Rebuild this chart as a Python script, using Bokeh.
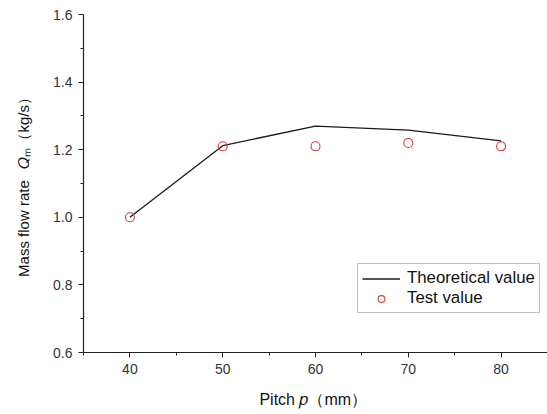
from bokeh.plotting import figure
from bokeh.models import Legend, LegendItem, Range1d, FixedTicker, CustomJSTickFormatter
from bokeh.embed import file_html
from bokeh.resources import INLINE

# data
pitch = [40, 50, 60, 70, 80]
theoretical = [1.0, 1.212, 1.27, 1.258, 1.226]
test = [1.0, 1.21, 1.21, 1.22, 1.21]
x_ticks = [40, 50, 60, 70, 80]
y_ticks = [0.6, 0.8, 1.0, 1.2, 1.4, 1.6]
x_title = "Pitch  \U0001D45D\uFF08mm\uFF09"
y_title = "Mass flow rate\u2002 \U0001D444\u2098\uFF08kg/s\uFF09"

W, H = 547, 414
FL, FT, FR, FB = 83, 14, 547, 352
X0, X1, Y0, Y1 = 35, 85, 0.6, 1.6

p = figure(width=W, height=H, output_backend="svg", toolbar_location=None,
           x_range=Range1d(X0, X1), y_range=Range1d(Y0, Y1),
           min_border_left=FL, min_border_right=W - FR, min_border_top=FT,
           min_border_bottom=H - FB)
p.grid.visible = False
p.outline_line_color = None
p.background_fill_color = "white"
p.border_fill_color = "white"

for ax in (p.xaxis[0], p.yaxis[0]):
    ax.axis_line_color = "#222222"
    ax.axis_line_width = 1.2
    ax.major_tick_line_color = "#222222"
    ax.minor_tick_line_color = "#222222"
    ax.major_tick_out = 5
    ax.major_tick_in = 0
    ax.minor_tick_out = 3
    ax.minor_tick_in = 0
    ax.major_label_text_font = "Liberation Sans"
    ax.major_label_text_font_size = "14px"
    ax.major_label_text_color = "#333333"
    ax.major_label_standoff = 6
    ax.axis_label_text_font = "Liberation Sans"
    ax.axis_label_text_font_style = "normal"
    ax.axis_label_text_color = "#111111"

p.xaxis.axis_label = x_title
p.xaxis.axis_label_text_font_size = "16px"
p.xaxis.axis_label_standoff = 14
p.yaxis.axis_label = y_title
p.yaxis.axis_label_text_font_size = "15px"
p.yaxis.axis_label_standoff = 18

p.xaxis.ticker = FixedTicker(ticks=x_ticks, minor_ticks=[35, 45, 55, 65, 75, 85])
p.yaxis.ticker = FixedTicker(ticks=y_ticks, minor_ticks=[0.7, 0.9, 1.1, 1.3, 1.5])
p.yaxis.formatter = CustomJSTickFormatter(code="return tick.toFixed(1);")

r_line = p.line(pitch, theoretical, line_color="#1a1a1a", line_width=1.3)
r_pts = p.scatter(pitch, test, marker="circle", size=9, fill_color=None,
                  line_color="#d43a3a", line_width=1.1)

legend = Legend(items=[LegendItem(label="Theoretical value", renderers=[r_line]),
                       LegendItem(label="Test value", renderers=[r_pts])],
                location=(357 - FL, FB - 313))
legend.border_line_color = "#888888"
legend.border_line_width = 1
legend.label_text_font = "Liberation Sans"
legend.label_text_font_size = "16.8px"
legend.label_text_color = "#111111"
legend.glyph_width = 38
legend.glyph_height = 17
legend.label_height = 17
legend.spacing = 0
legend.padding = 4
legend.margin = 0
legend.label_standoff = 7
legend.background_fill_alpha = 1
p.add_layout(legend, "center")

open("out.html", "w").write(file_html(p, INLINE))
